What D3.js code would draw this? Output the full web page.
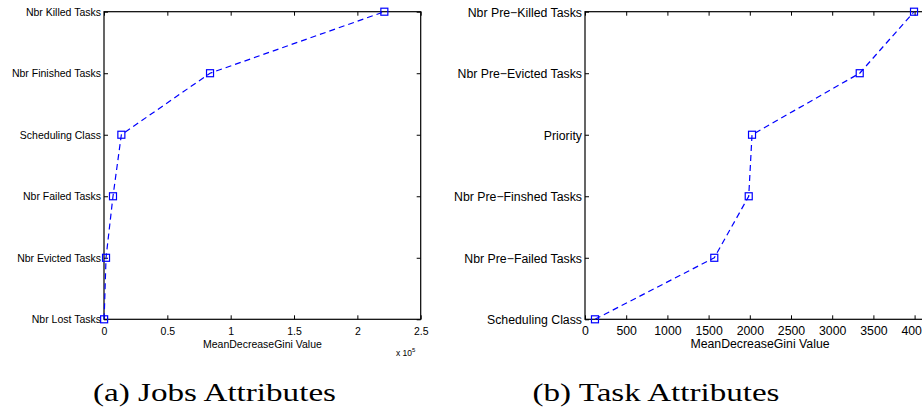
<!DOCTYPE html>
<html><head><meta charset="utf-8">
<script src="https://cdn.jsdelivr.net/npm/d3@7"></script>
<style>body{margin:0;background:#fff}svg{display:block}</style>
</head><body>
<svg id="c" width="922" height="410"></svg>
<script>
// Left panel: Jobs attributes (values in raw units, axis scaled x 10^5)
const jobCategories = ["Nbr Lost Tasks","Nbr Evicted Tasks","Nbr Failed Tasks","Scheduling Class","Nbr Finished Tasks","Nbr Killed Tasks"];
const jobValues = [100, 1600, 7100, 13700, 83700, 221300];
const jobTicks = [0, 50000, 100000, 150000, 200000, 250000];
const jobTickLabels = ["0","0.5","1","1.5","2","2.5"];

// Right panel: Task attributes
const taskCategories = ["Scheduling Class","Nbr Pre\u2212Failed Tasks","Nbr Pre\u2212Finshed Tasks","Priority","Nbr Pre\u2212Evicted Tasks","Nbr Pre\u2212Killed Tasks"];
const taskValues = [121, 1569, 1987, 2027, 3334, 3993];
const taskTicks = [0,500,1000,1500,2000,2500,3000,3500,4000];
const taskTickLabels = ["0","500","1000","1500","2000","2500","3000","3500","4000"];

const xLabel = "MeanDecreaseGini Value";
const captions = ["(a) Jobs Attributes", "(b) Task Attributes"];

const svg = d3.select("#c");
svg.append("rect").attr("width",922).attr("height",410).attr("fill","#fff");

function panel(opt){
  const g = svg.append("g");
  const x = d3.scaleLinear().domain(opt.domain).range([opt.left, opt.right]);
  const y = d3.scalePoint().domain(opt.cats).range([opt.bottom, opt.top]);
  const ff = "'Liberation Sans', Arial, Helvetica, sans-serif";
  // box
  g.append("rect").attr("x",opt.left).attr("y",opt.top)
    .attr("width",opt.right-opt.left).attr("height",opt.bottom-opt.top)
    .attr("fill","none").attr("stroke","#000").attr("stroke-width",1.2);
  const xb = g.append("g").attr("transform",`translate(0,${opt.bottom})`)
    .call(d3.axisBottom(x).tickValues(opt.ticks).tickFormat((d,i)=>opt.tickLabels[i]).tickSizeInner(-4).tickSizeOuter(0).tickPadding(opt.xPad));
  const xt = g.append("g").attr("transform",`translate(0,${opt.top})`)
    .call(d3.axisTop(x).tickValues(opt.ticks).tickFormat("").tickSizeInner(-4).tickSizeOuter(0));
  const yl = g.append("g").attr("transform",`translate(${opt.left},0)`)
    .call(d3.axisLeft(y).tickSizeInner(-4).tickSizeOuter(0).tickPadding(3));
  const yr = g.append("g").attr("transform",`translate(${opt.right},0)`)
    .call(d3.axisRight(y).tickFormat("").tickSizeInner(-4).tickSizeOuter(0));
  [xb,xt,yl,yr].forEach(a=>{
    a.select(".domain").remove();
    a.selectAll("line").attr("stroke","#000");
    a.selectAll("text").attr("fill","#000").attr("font-family",ff);
  });
  xb.selectAll("text").attr("font-size",opt.xTickFont);
  yl.selectAll("text").attr("font-size",opt.yTickFont).attr("dy","0.35em");
  const pts = opt.cats.map((c,i)=>[x(opt.values[i]), y(c)]);
  g.append("path").attr("d",d3.line()(pts)).attr("fill","none")
    .attr("stroke","#0000ff").attr("stroke-width",1.2).attr("stroke-dasharray","6,4");
  g.selectAll("rect.m").data(pts).join("rect").attr("class","m")
    .attr("x",d=>d[0]-3.5).attr("y",d=>d[1]-3.5).attr("width",7).attr("height",7)
    .attr("fill","none").attr("stroke","#0000ff").attr("stroke-width",1.2);
  g.append("text").attr("x",opt.labelX).attr("y",opt.labelY).attr("text-anchor","middle")
    .attr("font-family",ff).attr("font-size",opt.labelFont).text(xLabel);
  g.append("text").attr("x",opt.capX).attr("y",401).attr("text-anchor","middle")
    .attr("font-family","'Liberation Serif', 'DejaVu Serif', serif").attr("font-size",25)
    .attr("textLength",opt.capW).attr("lengthAdjust","spacingAndGlyphs").text(opt.caption);
  return {g,x,y};
}

const L = panel({cats:jobCategories, values:jobValues, domain:[0,250000], ticks:jobTicks, tickLabels:jobTickLabels,
  left:104, right:420.7, top:11.7, bottom:319.3, xTickFont:10.5, yTickFont:10.5, labelFont:10.5, xPad:8,
  labelX:262.4, labelY:348, capX:214.5, capW:243, caption:captions[0]});
const mult = L.g.append("text").attr("x",396).attr("y",356).attr("font-family","'Liberation Sans', Arial, sans-serif").attr("font-size",8.5);
mult.append("tspan").text("x 10");
mult.append("tspan").attr("dy",-4).attr("font-size",6).text("5");

panel({cats:taskCategories, values:taskValues, domain:[0,4500], ticks:taskTicks, tickLabels:taskTickLabels,
  left:585, right:585+4500*0.0824, top:11.7, bottom:319.3, xTickFont:12.3, yTickFont:12.3, labelFont:12.3, xPad:7,
  labelX:760, labelY:348, capX:656, capW:247, caption:captions[1]});
</script>
</body></html>
